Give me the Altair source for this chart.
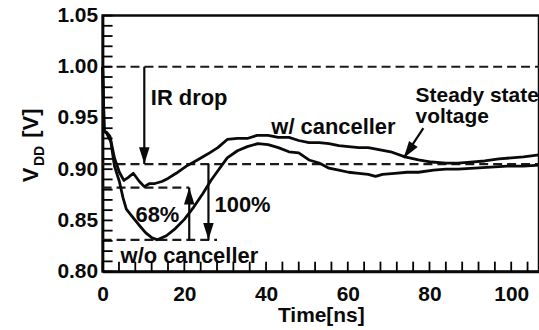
import altair as alt
import pandas as pd

# ---------------- data ----------------
time_with = [0, 0.4, 1, 1.8, 2.9, 4.1, 5.2, 6.3, 7.5, 9, 10.2, 11.5, 12.8, 14.5, 16, 18,
             20.5, 23.2, 25.8, 28.2, 30.5, 33, 35.4, 37.8, 40.5, 43, 45.6, 48, 50.5, 53,
             55.4, 57.8, 60.2, 62.7, 65, 67.6, 70.5, 74, 77.3, 80.5, 84, 87, 90, 93.5,
             97, 100, 103, 106.8]
vdd_with = [1.0, 0.937, 0.936, 0.932, 0.911, 0.897, 0.889, 0.892, 0.896, 0.888, 0.883,
            0.886, 0.886, 0.888, 0.891, 0.896, 0.903, 0.909, 0.915, 0.921, 0.929, 0.930,
            0.930, 0.933, 0.933, 0.931, 0.931, 0.928, 0.926, 0.926, 0.925, 0.923, 0.922,
            0.921, 0.921, 0.919, 0.917, 0.912, 0.909, 0.907, 0.906, 0.906, 0.907, 0.908,
            0.910, 0.911, 0.912, 0.914]

time_without = [0, 0.4, 1, 2, 2.9, 4.1, 5, 5.8, 7.2, 8.8, 10.5, 12.1, 13.4, 15.6, 17.8,
                20, 22.3, 24.5, 26.5, 28.3, 30.5, 33, 35.4, 38, 40.5, 43, 45.6, 48, 50.5,
                53, 55.4, 57.8, 60.2, 62.7, 65, 66.8, 68.5, 71.5, 74.5, 77.3, 81, 84, 87,
                91, 95, 99, 103, 106.8]
vdd_without = [1.0, 0.937, 0.935, 0.927, 0.903, 0.888, 0.872, 0.861, 0.854, 0.846, 0.838,
               0.833, 0.831, 0.835, 0.842, 0.851, 0.863, 0.876, 0.889, 0.899, 0.911, 0.918,
               0.922, 0.925, 0.924, 0.921, 0.917, 0.916, 0.909, 0.906, 0.901, 0.899, 0.897,
               0.896, 0.895, 0.893, 0.895, 0.896, 0.897, 0.897, 0.899, 0.900, 0.900, 0.901,
               0.902, 0.903, 0.903, 0.904]

x_tick_labels = [0, 20, 40, 60, 80, 100]
y_tick_labels = [0.80, 0.85, 0.90, 0.95, 1.00, 1.05]
x_minor_ticks = [0, 4, 8, 12, 16, 20, 24, 28, 32, 36, 40, 44, 48, 52, 56, 60, 64, 68, 72,
                 76, 80, 84, 88, 92, 96, 100, 104]
y_minor_ticks = [0.80, 0.81, 0.82, 0.83, 0.84, 0.85, 0.86, 0.87, 0.88, 0.89, 0.90, 0.91,
                 0.92, 0.93, 0.94, 0.95, 0.96, 0.97, 0.98, 0.99, 1.00, 1.01, 1.02, 1.03,
                 1.04, 1.05]

x_min, x_max = 0, 106.8
y_min, y_max = 0.80, 1.05

nominal_v = 1.00
steady_v = 0.905
min_with = 0.882
min_without = 0.831

# dashed reference levels: level, start time, end time
ref_levels = [nominal_v, steady_v, min_with, min_without]
ref_start = [0, 0, 0, 0]
ref_end = [x_max, x_max, 21.2, 28.0]

# vertical arrows: time, start level, tip level
varrow_t = [10.2, 21.2, 25.9]
varrow_from = [nominal_v, min_without, steady_v]
varrow_to = [steady_v, min_with, min_without]

# slanted arrow (steady state label)
sarrow_t = [78.5, 73.7]
sarrow_v = [0.940, 0.911]

# labels
label_text = ["IR drop", "w/ canceller", "w/o canceller", "100%"]
label_t = [11.8, 41.3, 4.4, 27.4]
label_v = [0.969, 0.941, 0.815, 0.865]
steady_text = ["Steady state", "voltage"]
steady_t = [76.6, 76.6]
steady_v_pos = [0.9715, 0.9505]
pct_text = ["68%"]
pct_t = [13.4]
pct_v = [0.855]

# ---------------- chart ----------------
FONT = "Liberation Sans"
INK = "#0a0a0a"
W, H = 438, 257
TICK_PX = 10

xs = alt.Scale(domain=[x_min, x_max], nice=False, zero=False)
ys = alt.Scale(domain=[y_min, y_max], nice=False, zero=False)

x_axis = alt.Axis(values=x_tick_labels, title="Time[ns]", ticks=False, tickSize=0, grid=False,
                  labelPadding=12, labelFontSize=21, labelFontWeight="bold", labelFont=FONT,
                  labelColor=INK, labelFlush=False, titleFont=FONT, titleFontSize=21,
                  titleFontWeight="bold", titleColor=INK, titlePadding=0,
                  domainColor=INK, domainWidth=2.5)
y_axis = alt.Axis(values=y_tick_labels, format=".2f", title=None, ticks=False, tickSize=0,
                  grid=False, labelPadding=5, labelFontSize=21, labelFontWeight="bold",
                  labelFont=FONT, labelColor=INK, labelFlush=False,
                  domainColor=INK, domainWidth=2.5)


def X(f):
    return alt.X(f, type="quantitative", scale=xs, axis=x_axis)


def Y(f):
    return alt.Y(f, type="quantitative", scale=ys, axis=y_axis)


# inward tick length converted from pixels to data units
dy_tick = TICK_PX * (y_max - y_min) / H
dx_tick = TICK_PX * (x_max - x_min) / W

curves = pd.DataFrame({
    "t": time_with + time_without,
    "v": vdd_with + vdd_without,
    "series": ["w/ canceller"] * len(time_with) + ["w/o canceller"] * len(time_without),
})
refs = pd.DataFrame({"t": ref_start, "t2": ref_end, "v": ref_levels})
varrows = pd.DataFrame({"t": varrow_t, "v": varrow_from, "v2": varrow_to})
down_heads = pd.DataFrame({"t": [varrow_t[0], varrow_t[2]], "v": [varrow_to[0], varrow_to[2]]})
up_heads = pd.DataFrame({"t": [varrow_t[1]], "v": [varrow_to[1]]})
sarrow = pd.DataFrame({"t": [sarrow_t[0]], "t2": [sarrow_t[1]], "v": [sarrow_v[0]], "v2": [sarrow_v[1]]})
shead = pd.DataFrame({"t": [sarrow_t[1]], "v": [sarrow_v[1]]})
labels = pd.DataFrame({"t": label_t, "v": label_v, "text": label_text})
steady_lbl = pd.DataFrame({"t": steady_t, "v": steady_v_pos, "text": steady_text})
pct = pd.DataFrame({"t": pct_t, "v": pct_v, "text": pct_text})
xticks = pd.DataFrame({"t": x_minor_ticks})
xticks["v"] = y_min
xticks["v2"] = y_min + dy_tick
yticks = pd.DataFrame({"v": y_minor_ticks})
yticks["t"] = x_min
yticks["t2"] = x_min + dx_tick

line_layer = alt.Chart(curves).mark_line(color=INK, strokeWidth=2.8, strokeJoin="round").encode(
    x=X("t"), y=Y("v"), detail="series:N", order="t:Q")

ref_layer = alt.Chart(refs).mark_rule(color="#1a1a1a", strokeWidth=2.2, strokeDash=[9, 5]).encode(
    x=X("t"), x2=alt.X2("t2"), y=Y("v"))

varrow_layer = alt.Chart(varrows).mark_rule(color=INK, strokeWidth=2.2).encode(
    x=X("t"), y=Y("v"), y2=alt.Y2("v2"))

DOWN = "M-0.62,-1L0.62,-1L0,1Z"
UP = "M-0.62,1L0.62,1L0,-1Z"

down_layer = alt.Chart(down_heads).mark_point(shape=DOWN, filled=True, size=289, color=INK,
                                              opacity=1, yOffset=-8.5).encode(x=X("t"), y=Y("v"))
up_layer = alt.Chart(up_heads).mark_point(shape=UP, filled=True, size=289, color=INK,
                                          opacity=1, yOffset=8.5).encode(x=X("t"), y=Y("v"))
sarrow_layer = alt.Chart(sarrow).mark_rule(color=INK, strokeWidth=2.2).encode(
    x=X("t"), x2=alt.X2("t2"), y=Y("v"), y2=alt.Y2("v2"))
shead_layer = alt.Chart(shead).mark_point(shape=DOWN, filled=True, size=289, color=INK,
                                          opacity=1, angle=35, xOffset=4.8,
                                          yOffset=-7.0).encode(x=X("t"), y=Y("v"))

label_layer = alt.Chart(labels).mark_text(font=FONT, fontSize=22, fontWeight="bold",
                                          color=INK, align="left", baseline="middle").encode(
    x=X("t"), y=Y("v"), text="text:N")
steady_layer = alt.Chart(steady_lbl).mark_text(font=FONT, fontSize=21, fontWeight="bold",
                                               color=INK, align="left", baseline="middle").encode(
    x=X("t"), y=Y("v"), text="text:N")
pct_layer = alt.Chart(pct).mark_text(font=FONT, fontSize=22, fontWeight="bold",
                                     color=INK, align="center", baseline="middle").encode(
    x=X("t"), y=Y("v"), text="text:N")

xtick_layer = alt.Chart(xticks).mark_rule(color="#000000", strokeWidth=1.8).encode(
    x=X("t"), y=Y("v"), y2=alt.Y2("v2"))
ytick_layer = alt.Chart(yticks).mark_rule(color="#000000", strokeWidth=1.8).encode(
    x=X("t"), x2=alt.X2("t2"), y=Y("v"))

# y-axis title with subscript, built from text pieces
title_v = alt.Chart(pd.DataFrame({"s": ["V"]})).mark_text(
    font=FONT, fontSize=22, fontWeight="bold", color=INK, angle=270, align="center",
    baseline="middle").encode(text="s:N", x=alt.value(-72), y=alt.value(160))
title_dd = alt.Chart(pd.DataFrame({"s": ["DD"]})).mark_text(
    font=FONT, fontSize=14, fontWeight="bold", color=INK, angle=270, align="center",
    baseline="middle").encode(text="s:N", x=alt.value(-63), y=alt.value(141))
title_unit = alt.Chart(pd.DataFrame({"s": ["[V]"]})).mark_text(
    font=FONT, fontSize=22, fontWeight="bold", color=INK, angle=270, align="center",
    baseline="middle").encode(text="s:N", x=alt.value(-72), y=alt.value(108))

chart = alt.layer(
    ref_layer, line_layer, varrow_layer, down_layer, up_layer, sarrow_layer, shead_layer,
    label_layer, steady_layer, pct_layer, xtick_layer, ytick_layer, title_v, title_dd,
    title_unit,
).properties(
    width=W, height=H,
    padding={"left": 103, "top": 15, "right": 0, "bottom": 58},
    autosize=alt.AutoSizeParams(type="none"),
    background="white",
).configure_view(stroke=INK, strokeWidth=2.5)

chart.save("out.html", embed_options={"renderer": "svg", "actions": False})
